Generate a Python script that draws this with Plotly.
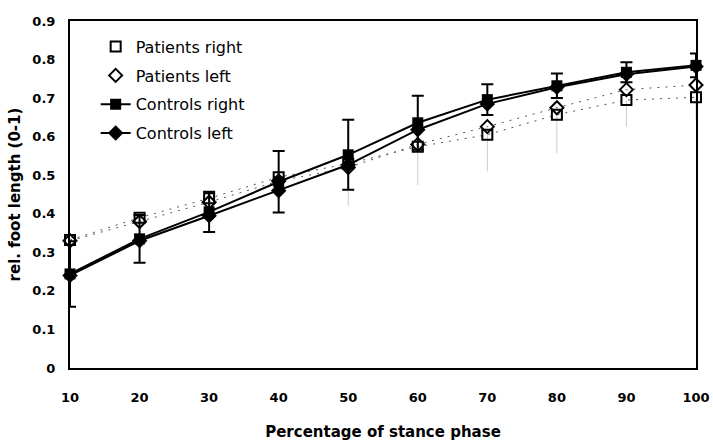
import plotly.graph_objects as go

stance_pct = [10, 20, 30, 40, 50, 60, 70, 80, 90, 100]
patients_right = [0.332, 0.390, 0.440, 0.495, 0.530, 0.574, 0.605, 0.657, 0.695, 0.702]
patients_left = [0.330, 0.380, 0.430, 0.485, 0.520, 0.580, 0.626, 0.675, 0.722, 0.734]
patients_right_sd_minus = [0, 0, 0, 0, 0.110, 0.100, 0.095, 0.100, 0.070, 0.060]
controls_right = [0.244, 0.335, 0.405, 0.483, 0.553, 0.636, 0.696, 0.732, 0.767, 0.785]
controls_left = [0.240, 0.330, 0.395, 0.460, 0.527, 0.618, 0.685, 0.728, 0.762, 0.782]
controls_sd = [0.085, 0.062, 0.052, 0.080, 0.091, 0.070, 0.040, 0.032, 0.026, 0.031]

y_ticks = [0, 0.1, 0.2, 0.3, 0.4, 0.5, 0.6, 0.7, 0.8, 0.9]
y_tick_text = ["0", "0.1", "0.2", "0.3", "0.4", "0.5", "0.6", "0.7", "0.8", "0.9"]

fig = go.Figure()

# dotted connecting lines for patients (no legend entry)
for ys in (patients_right, patients_left):
    fig.add_trace(go.Scatter(
        x=stance_pct, y=ys, mode="lines", showlegend=False, hoverinfo="skip",
        line=dict(color="#555555", width=1, dash="2px,6px"),
    ))

fig.add_trace(go.Scatter(
    x=stance_pct, y=patients_right, name="Patients right", legendgroup="a",
    mode="markers", cliponaxis=False,
    marker=dict(symbol="square-open", size=10, color="black", line=dict(width=2, color="black")),
    error_y=dict(type="data", array=[0] * len(stance_pct), arrayminus=patients_right_sd_minus,
                 color="#cccccc", thickness=1, width=0),
))
fig.add_trace(go.Scatter(
    x=stance_pct, y=patients_left, name="Patients left", legendgroup="b",
    mode="markers", cliponaxis=False,
    marker=dict(symbol="diamond-open", size=10, color="black", line=dict(width=2, color="black")),
))
fig.add_trace(go.Scatter(
    x=stance_pct, y=controls_right, name="Controls right", legendgroup="c",
    mode="lines+markers", cliponaxis=False,
    line=dict(color="black", width=2),
    marker=dict(symbol="square", size=11, color="black"),
    error_y=dict(type="data", array=controls_sd, color="black", thickness=2, width=6),
))
fig.add_trace(go.Scatter(
    x=stance_pct, y=controls_left, name="Controls left", legendgroup="d",
    mode="lines+markers", cliponaxis=False,
    line=dict(color="black", width=2),
    marker=dict(symbol="diamond", size=12, color="black"),
))

fig.update_layout(
    width=713, height=441,
    margin=dict(l=70, r=17, t=21, b=73, autoexpand=False),
    paper_bgcolor="white", plot_bgcolor="white",
    font=dict(family="DejaVu Sans", color="black"),
    showlegend=True,
    legend=dict(
        x=0.041, y=0.975, xanchor="left", yanchor="top",
        bgcolor="rgba(0,0,0,0)", borderwidth=0,
        font=dict(family="DejaVu Sans", size=16, color="black"),
        traceorder="grouped", tracegroupgap=5,
        itemwidth=30,
    ),
    xaxis=dict(
        range=[10, 100], tickvals=stance_pct, ticks="",
        showgrid=False, zeroline=False, automargin=False,
        showline=True, linecolor="black", linewidth=2, mirror=True,
        tickfont=dict(family="DejaVu Sans", size=13, weight="bold"),
        ticklabelstandoff=16,
        title=dict(text="Percentage of stance phase",
                   font=dict(family="DejaVu Sans", size=15, weight="bold"),
                   standoff=25),
    ),
    yaxis=dict(
        range=[0, 0.9], tickvals=y_ticks, ticktext=y_tick_text, ticks="",
        showgrid=False, zeroline=False, automargin=False,
        showline=True, linecolor="black", linewidth=2, mirror=True,
        tickfont=dict(family="DejaVu Sans", size=13, weight="bold"),
        ticklabelstandoff=10,
        title=dict(text="rel. foot length (0-1)",
                   font=dict(family="DejaVu Sans", size=15, weight="bold"),
                   standoff=8),
    ),
)

fig.write_html("out.html")
